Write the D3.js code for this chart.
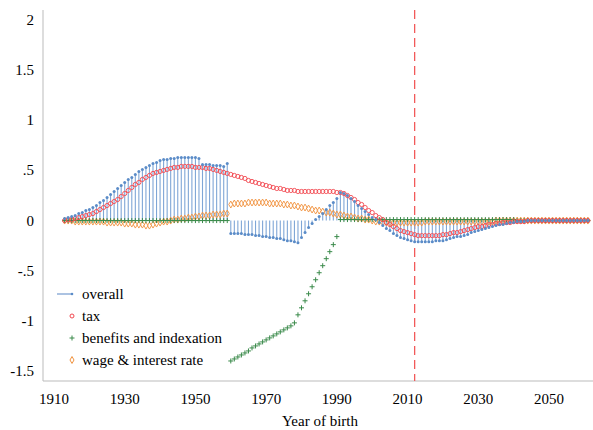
<!DOCTYPE html>
<html><head><meta charset="utf-8">
<script src="https://cdn.jsdelivr.net/npm/d3@7"></script>
<style>body{margin:0;background:#fff}</style>
</head><body><svg id="c" width="593" height="430" font-family="'Liberation Serif', 'Times New Roman', Times, 'DejaVu Serif', serif"></svg>
<script>
const startYear = 1913;
const overall = [
.02,.03,.04,.05,.07,.08,.10,.11,.13,.15,
.18,.20,.23,.26,.29,.32,.35,.38,.41,.43,
.46,.49,.51,.53,.55,.57,.58,.60,.61,.61,
.62,.62,.63,.63,.63,.63,.63,.63,.62,.56,
.56,.56,.55,.55,.55,.54,.57,-.13,-.13,-.13,
-.13,-.14,-.14,-.14,-.15,-.15,-.16,-.16,-.17,-.17,
-.18,-.18,-.19,-.20,-.20,-.21,-.22,-.17,-.12,-.07,
-.03,.01,.04,.07,.11,.15,.18,.22,.28,.27,
.25,.22,.19,.15,.12,.09,.06,.03,.01,-.02,
-.05,-.08,-.10,-.13,-.15,-.17,-.18,-.19,-.20,-.21,
-.21,-.21,-.21,-.21,-.21,-.20,-.20,-.20,-.19,-.18,
-.17,-.16,-.16,-.15,-.14,-.12,-.11,-.10,-.09,-.08,
-.07,-.06,-.05,-.04,-.04,-.03,-.02,-.02,-.01,-.01,
-.01,0,0,0,0,0,0,0,0,0,
0,0,0,0,0,0,0,0,0];
const tax = [
.00,.01,.01,.02,.03,.04,.05,.06,.07,.09,
.11,.13,.15,.17,.19,.21,.24,.27,.30,.33,
.36,.38,.41,.43,.45,.47,.48,.49,.50,.51,
.52,.53,.53,.54,.54,.54,.54,.53,.53,.53,
.52,.52,.51,.50,.49,.48,.47,.46,.45,.44,
.43,.42,.40,.39,.38,.37,.36,.35,.34,.33,
.32,.32,.31,.30,.30,.30,.29,.29,.29,.29,
.29,.29,.29,.29,.29,.29,.29,.28,.28,.27,
.25,.23,.21,.18,.16,.13,.10,.08,.05,.03,
.01,-.02,-.04,-.06,-.08,-.10,-.11,-.12,-.13,-.14,
-.15,-.15,-.15,-.15,-.15,-.15,-.15,-.14,-.14,-.13,
-.12,-.12,-.11,-.10,-.09,-.08,-.07,-.06,-.06,-.05,
-.04,-.04,-.03,-.03,-.02,-.02,-.02,-.01,-.01,-.01,
-.01,0,0,0,0,0,0,0,0,0,
0,0,0,0,0,0,0,0,0];
const benefits = [
0,0,0,0,0,0,0,0,0,0,
0,0,0,0,0,0,0,0,0,0,
0,0,0,0,0,0,0,0,0,0,
0,0,0,0,0,0,0,0,0,0,
0,0,0,0,0,0,0,-1.40,-1.38,-1.36,
-1.34,-1.32,-1.30,-1.27,-1.25,-1.23,-1.21,-1.19,-1.17,-1.15,
-1.13,-1.11,-1.09,-1.07,-1.05,-1.02,-0.94,-0.87,-0.80,-0.73,
-0.66,-0.59,-0.52,-0.45,-0.38,-0.31,-0.24,-0.16,.01,.01,
.01,.01,.01,.01,.01,.01,.01,.01,.01,.01,
.01,.01,.01,.01,.01,.01,.01,.01,.01,.01,
.01,.01,.01,.01,.01,.01,.01,.01,.01,.01,
.01,.01,.01,.01,.01,.01,.01,.01,.01,.01,
.01,.01,.01,.01,.01,.01,.01,.01,0,0,
0,0,0,0,0,0,0,0,0,0,
0,0,0,0,0,0,0,0,0];
const wage = [
0,0,0,-.01,-.01,-.01,-.01,-.01,-.01,-.01,
-.01,-.01,-.02,-.02,-.02,-.02,-.02,-.03,-.03,-.03,
-.04,-.04,-.04,-.05,-.05,-.04,-.03,-.02,-.01,-.01,
0,.01,.01,.02,.02,.03,.03,.04,.04,.05,
.05,.05,.06,.06,.06,.07,.07,.16,.17,.17,
.17,.17,.18,.18,.18,.18,.18,.18,.17,.17,
.17,.17,.16,.16,.15,.15,.14,.13,.13,.12,
.11,.10,.10,.09,.08,.08,.07,.06,.06,.05,
.04,.04,.03,.02,.02,.01,.01,0,-.01,-.01,
-.02,-.02,-.02,-.02,-.02,-.02,-.02,-.02,-.02,-.02,
-.02,-.02,-.01,-.01,-.01,-.01,-.01,-.01,-.01,-.01,
-.01,-.01,-.01,-.01,-.01,-.01,-.01,-.01,-.01,-.01,
-.01,-.01,0,0,0,0,0,0,0,0,
0,0,0,0,0,0,0,0,0,0,
0,0,0,0,0,0,0,0,0];
const xTicks = [1910,1930,1950,1970,1990,2010,2030,2050];
const yTicks = [2,1.5,1,0.5,0,-0.5,-1,-1.5];
const yTickLabels = ["2","1.5","1",".5","0","-.5","-1","-1.5"];
const refYear = 2012;
const legendLabels = ["overall","tax","benefits and indexation","wage & interest rate"];

const svg = d3.select("#c");
const x = d3.scaleLinear().domain([1910,2064]).range([54,598.5]);
const y = d3.scaleLinear().domain([-1.5,2]).range([371,20]);
const years = overall.map((d,i)=>startYear+i);
const plus = "M-2.5,0H2.5M0,-2.5V2.5";

svg.append("line").attr("x1",43).attr("x2",593).attr("y1",381).attr("y2",381).attr("stroke","#bbb");
svg.append("line").attr("x1",43).attr("x2",43).attr("y1",10).attr("y2",381).attr("stroke","#bbb");
svg.append("g").selectAll("text").data(xTicks).join("text")
  .attr("x",d=>x(d)).attr("y",404).attr("text-anchor","middle").attr("font-size",15).text(d=>d);
svg.append("g").selectAll("text").data(yTicks).join("text")
  .attr("x",34).attr("y",d=>y(d)+5).attr("text-anchor","end").attr("font-size",15).text((d,i)=>yTickLabels[i]);
svg.append("text").attr("x",320).attr("y",426).attr("text-anchor","middle").attr("font-size",15).text("Year of birth");

svg.append("line").attr("x1",x(refYear)).attr("x2",x(refYear)).attr("y1",10).attr("y2",381)
  .attr("stroke","#f25a5a").attr("stroke-width",1.3).attr("stroke-dasharray","9,5");

const g = svg.append("g");
g.selectAll("line.stem").data(overall).join("line").attr("class","stem")
  .attr("x1",(d,i)=>x(years[i])).attr("x2",(d,i)=>x(years[i]))
  .attr("y1",y(0)).attr("y2",d=>y(d)).attr("stroke","#7fa6d6").attr("stroke-width",1.1);
g.selectAll("path.w").data(wage).join("path").attr("class","w")
  .attr("d",d3.symbol(d3.symbolDiamond,14)).attr("transform",(d,i)=>`translate(${x(years[i])},${y(d)})`)
  .attr("fill","none").attr("stroke","#f0923e").attr("stroke-width",0.9);
g.selectAll("path.b").data(benefits).join("path").attr("class","b")
  .attr("d",plus).attr("transform",(d,i)=>`translate(${x(years[i])},${y(d)})`)
  .attr("fill","none").attr("stroke","#3a8a4a").attr("stroke-width",1);
g.selectAll("circle.t").data(tax).join("circle").attr("class","t")
  .attr("cx",(d,i)=>x(years[i])).attr("cy",d=>y(d)).attr("r",2.1)
  .attr("fill","none").attr("stroke","#f2474f").attr("stroke-width",0.9);
g.selectAll("circle.o").data(overall).join("circle").attr("class","o")
  .attr("cx",(d,i)=>x(years[i])).attr("cy",d=>y(d)).attr("r",1.5).attr("fill","#5b8cc8");

const ly = [294,316,338,360];
const leg = svg.append("g");
leg.append("line").attr("x1",57).attr("x2",73).attr("y1",ly[0]).attr("y2",ly[0]).attr("stroke","#7fa3d3").attr("stroke-width",1.3);
leg.append("circle").attr("cx",72).attr("cy",ly[0]).attr("r",1.3).attr("fill","#5b8cc8");
leg.append("circle").attr("cx",72).attr("cy",ly[1]).attr("r",2).attr("fill","none").attr("stroke","#f2474f");
leg.append("path").attr("d",plus).attr("transform",`translate(72,${ly[2]})`).attr("fill","none").attr("stroke","#3a8a4a");
leg.append("path").attr("d",d3.symbol(d3.symbolDiamond,14)).attr("transform",`translate(72,${ly[3]})`).attr("fill","none").attr("stroke","#f0923e");
leg.selectAll("text").data(legendLabels).join("text").attr("x",82).attr("y",(d,i)=>ly[i]+5).attr("font-size",15).text(d=>d);
</script></body></html>
